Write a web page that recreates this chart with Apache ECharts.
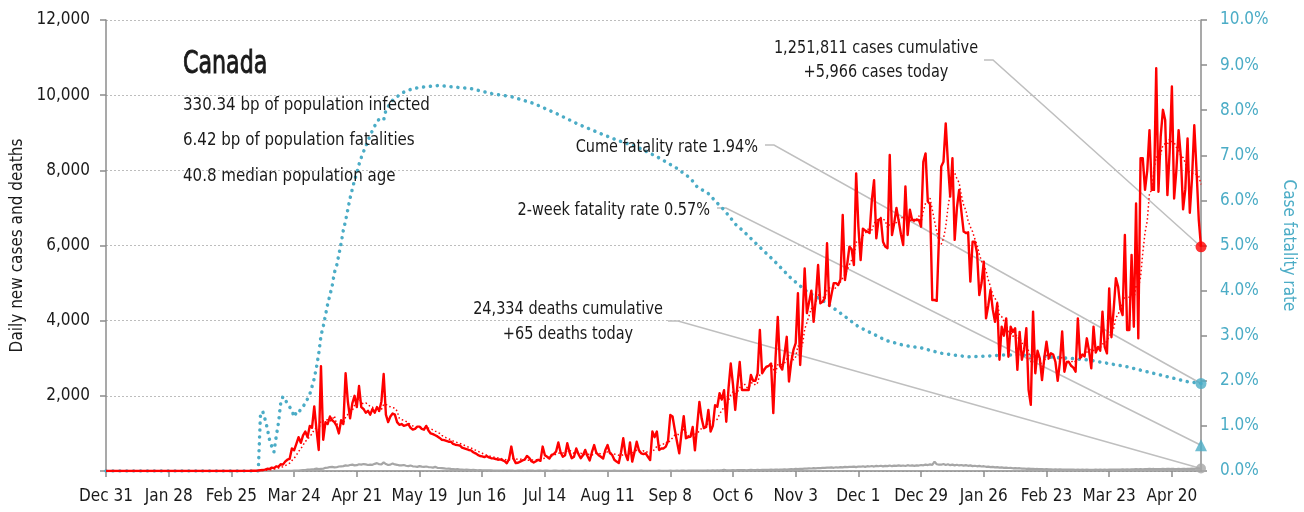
<!DOCTYPE html>
<html>
<head>
<meta charset="utf-8">
<script src="https://cdn.jsdelivr.net/npm/echarts@6/dist/echarts.min.js"></script>
<style>
  html, body { margin: 0; padding: 0; background: #ffffff; }
  #chart { width: 1304px; height: 512px; }
</style>
</head>
<body>
<div id="chart"></div>
<script>
// Day 0 = Dec 31, 2019. One value per day.
const tickDays = [0, 28, 56, 84, 112, 140, 168, 196, 224, 252, 280, 308, 336, 364, 392, 420, 448, 476];
const tickLabels = ['Dec 31', 'Jan 28', 'Feb 25', 'Mar 24', 'Apr 21', 'May 19', 'Jun 16', 'Jul 14', 'Aug 11',
  'Sep 8', 'Oct 6', 'Nov 3', 'Dec 1', 'Dec 29', 'Jan 26', 'Feb 23', 'Mar 23', 'Apr 20'];
const lastDay = 489;

// Daily new cases
const dailyCases = [
  0,0,0,0,0,0,0,0,0,0, 0,0,0,0,0,0,0,0,0,0, 0,0,0,0,0,0,0,0,0,0, 0,0,0,0,0,0,0,0,0,0,
  0,0,0,0,0,0,0,0,0,0, 0,0,0,0,0,0,0,0,0,0, 0,
  4,3,3,3,6,10,6,12,20,25,
  35,60,55,90,75,125,110,180,170,250,
  300,320,600,550,720,900,750,950,1050,900,
  1200,1150,1720,1100,560,2790,830,1300,1250,1450,
  1350,1300,1200,1000,1350,1250,2600,1850,1400,1800,
  2000,1700,2260,1700,1650,1550,1600,1500,1650,1550,
  1700,1600,1850,2580,1500,1300,1450,1530,1500,1300,
  1230,1250,1200,1220,1250,1150,1100,1120,1180,1180,
  1120,1100,1200,1080,1000,980,950,920,880,830,
  820,800,780,780,720,700,690,680,620,600,
  580,560,550,500,470,430,400,390,370,400,
  360,340,335,320,300,310,290,260,205,320,
  650,330,210,220,250,280,300,400,350,260,
  225,260,300,270,650,420,380,330,430,450,
  520,760,500,380,420,740,500,340,380,600,
  450,340,420,560,400,280,500,690,480,420,
  380,330,560,690,480,430,300,250,210,500,
  870,450,290,760,250,500,780,550,470,450,
  470,380,290,1050,900,1050,560,600,600,650,
  800,1490,1450,1100,780,470,1000,1460,870,900,
  910,1170,550,1200,1840,1400,1140,1170,1625,1050,
  1200,1750,1710,2070,1900,2150,1310,2200,2860,2300,
  1625,2300,2900,2155,2155,2155,2155,2553,2400,2400,
  2600,3750,2600,2700,2780,2800,2860,1540,3000,4100,
  2800,2700,3100,3570,2380,2900,3220,3400,4730,2820,
  3900,5390,4200,4500,4800,3970,4600,5480,4460,4500,
  4600,6060,4390,4700,5000,5000,4950,5100,6810,5080,
  5500,5970,5900,5480,7920,6500,5610,6450,6400,6370,
  6330,7200,7740,6190,6680,6720,6100,5970,5930,8410,
  6280,6600,7000,6650,6300,6010,7570,6280,6950,6680,
  6680,6680,6680,6500,8230,8450,7170,7100,4550,4550,
  4530,6240,8100,8230,9250,8180,7300,8320,6150,7000,
  7480,6900,6370,6330,6350,5040,6100,6100,5800,4680,
  5000,5570,4060,4400,4820,4300,3970,4460,2960,3840,
  3600,4060,3040,3840,3700,3800,2690,3700,2960,3220,
  3800,2160,1760,4240,2600,3200,3000,2420,3000,3440,
  3000,3130,3100,2900,2400,2900,3710,2640,2900,2900,
  2800,2750,2640,4060,3000,3100,3050,3530,3200,2730,
  3840,3150,3300,3200,4240,3300,3130,4860,3560,4300,
  5130,4900,4330,4150,6280,3750,3750,5750,3840,7120,
  3530,8320,8320,7480,8000,9070,7480,7480,10715,7430,
  8900,9610,9340,7340,8500,10230,7250,8000,9070,8360,
  6960,7500,8850,6870,7800,9200,8010,6690,5966
];

// Daily new deaths
const dailyDeaths = [
  0,0,0,0,0,0,0,0,0,0, 0,0,0,0,0,0,0,0,0,0, 0,0,0,0,0,0,0,0,0,0, 0,0,0,0,0,0,0,0,0,0,
  0,0,0,0,0,0,0,0,0,0, 0,0,0,0,0,0,0,0,0,0, 0,
  0,0,0,0,0,0,0,0,1,0,
  0,1,0,0,1,2,3,1,2,4,
  3,6,7,9,10,13,20,27,25,35,
  40,46,52,63,50,55,60,85,90,105,
  110,95,100,120,125,130,150,140,160,170,
  150,155,180,170,185,175,160,170,165,190,
  210,180,175,230,185,160,170,200,175,165,
  150,150,160,140,130,145,125,120,110,130,
  115,110,120,105,100,90,110,85,80,75,
  70,60,65,55,50,45,50,40,35,30,
  35,30,25,28,25,20,22,20,18,15,
  16,14,12,10,13,11,9,10,8,10,
  12,9,7,11,10,8,6,9,12,10,
  8,7,9,11,6,8,10,7,5,9,
  8,6,7,9,5,6,8,7,5,6,
  7,5,6,8,5,4,7,6,5,7,
  6,5,4,7,6,5,8,4,5,6,
  7,5,6,4,5,7,6,5,8,6,
  5,6,7,5,4,6,8,5,7,6,
  6,8,7,5,9,6,8,10,7,9,
  10,8,12,9,11,13,10,12,14,11,
  15,13,17,14,16,35,18,20,17,22,
  19,24,21,23,26,20,25,28,22,27,
  30,25,29,33,28,31,35,30,38,34,
  40,36,44,38,45,50,42,55,48,60,
  58,65,62,70,66,75,72,80,78,85,
  82,90,88,95,85,100,92,105,98,110,
  104,112,108,118,102,120,114,125,110,128,
  120,132,118,135,126,140,122,138,130,145,
  128,142,135,150,138,146,132,155,140,148,
  136,150,145,160,152,170,158,175,165,250,
  180,172,168,185,160,178,155,170,150,165,
  148,160,142,155,138,150,130,140,125,135,
  120,128,112,118,105,110,98,104,90,96,
  85,90,80,84,72,78,68,74,62,66,
  58,62,55,60,50,54,48,52,45,50,
  42,46,40,44,38,42,36,40,35,38,
  34,37,32,36,30,34,31,35,29,33,
  30,34,32,36,31,35,33,37,34,38,
  36,40,35,42,38,44,40,46,42,48,
  45,50,47,52,49,55,50,54,48,53,
  50,56,52,58,54,60,55,51,57,53,
  58,54,60,56,62,58,63,60,65
];

// Cumulative case fatality rate, percent: [day, rate]
const fatalityRate = [
  [0,0],[68,0],[69,1.28],[70,1.32],[71,1.15],[72,0.95],[73,0.7],[74,0.55],[75,0.42],[76,0.76],
  [77,1.06],[78,1.5],[79,1.65],[80,1.58],[81,1.5],[82,1.42],[83,1.35],[84,1.2],[85,1.3],[86,1.28],
  [87,1.38],[88,1.43],[89,1.5],[90,1.6],[91,1.7],[92,1.87],[93,2.05],[94,2.3],[95,2.6],[96,3.0],
  [97,3.2],[98,3.45],[99,3.7],[100,3.9],[101,4.1],[102,4.4],[103,4.55],[104,4.8],[105,5.05],[106,5.34],
  [107,5.55],[108,5.8],[109,6.05],[110,6.25],[111,6.45],[112,6.6],[113,6.8],[114,6.95],[115,7.08],[116,7.2],
  [117,7.32],[118,7.45],[119,7.55],[120,7.65],[121,7.75],[122,7.8],[123,7.78],[124,7.78],[125,8.0],[126,8.08],
  [127,8.15],[128,8.22],[130,8.3],[133,8.4],[137,8.48],[143,8.52],[149,8.55],[154,8.52],[163,8.48],[172,8.37],
  [181,8.3],[191,8.15],[201,7.93],[210,7.71],[219,7.52],[228,7.34],[237,7.19],[246,6.97],[255,6.71],[261,6.49],
  [264,6.3],[269,6.15],[273,5.94],[276,5.79],[282,5.42],[284,5.35],[291,5.01],[298,4.68],[306,4.27],[313,3.98],
  [321,3.75],[328,3.5],[336,3.2],[345,2.98],[348,2.9],[356,2.79],[364,2.73],[373,2.61],[385,2.53],[394,2.55],
  [400,2.57],[409,2.57],[421,2.53],[430,2.5],[439,2.46],[447,2.39],[456,2.31],[465,2.2],[474,2.09],[483,1.98],
  [489,1.94]
];

const countryName = 'Canada';
const profileLines = ['330.34 bp of population infected', '6.42 bp of population fatalities', '40.8 median population age'];
const cumulativeCases = 1251811;
const casesToday = 5966;
const cumulativeDeaths = 24334;
const deathsToday = 65;
const cumeFatalityRate = 1.94;
const twoWeekFatalityRate = 0.57;

// Trailing 7-day average of daily cases
function trailingMean(values, n) {
  return values.map((v, i) => {
    const from = Math.max(0, i - n + 1);
    let s = 0;
    for (let k = from; k <= i; k++) s += values[k];
    return s / (i - from + 1);
  });
}
const casesAvg = trailingMean(dailyCases, 7);

const FONT = '"DejaVu Sans Condensed", "Liberation Sans Narrow", "DejaVu Sans", sans-serif';
const RED = '#ff0000';
const BLUE = '#4bacc6';
const GRAY = '#a6a6a6';
const AXIS = '#8c8c8c';
const LEADER = '#bfbfbf';
const TEXT = '#1a1a1a';
const fmt = v => v.toLocaleString('en-US');

const chart = echarts.init(document.getElementById('chart'), null, { renderer: 'canvas' });

chart.setOption({
  animation: false,
  backgroundColor: '#ffffff',
  textStyle: { fontFamily: FONT },
  grid: { left: 106, right: 103, top: 20, bottom: 41, containLabel: false, outerBoundsMode: 'none' },
  xAxis: {
    type: 'value', min: 0, max: lastDay, interval: 28,
    axisLine: { show: true, onZero: false, lineStyle: { color: AXIS, width: 1.5 } },
    axisTick: { show: true, length: 6, customValues: tickDays, lineStyle: { color: AXIS, width: 1.5 } },
    axisLabel: {
      customValues: tickDays,
      formatter: v => tickLabels[tickDays.indexOf(v)] || '',
      fontSize: 17, color: TEXT, margin: 17, fontFamily: FONT
    },
    splitLine: { show: false }
  },
  yAxis: [
    {
      type: 'value', min: 0, max: 12000, interval: 2000, position: 'left',
      name: 'Daily new cases and deaths', nameLocation: 'middle', nameGap: 80,
      nameTextStyle: { fontSize: 17, color: TEXT, fontFamily: FONT },
      axisLine: { show: true, lineStyle: { color: AXIS, width: 1.5 } },
      axisTick: { show: true, length: 6, lineStyle: { color: AXIS, width: 1.5 } },
      axisLabel: { formatter: v => (v === 0 ? '' : fmt(v)), fontSize: 17, color: TEXT, margin: 16, fontFamily: FONT },
      splitLine: { show: true, lineStyle: { color: '#bdbdbd', width: 1, type: [2, 2] } }
    },
    {
      type: 'value', min: 0, max: 10, interval: 1, position: 'right',
      name: 'Case fatality rate', nameLocation: 'middle', nameGap: 78, nameRotate: -90,
      nameTextStyle: { fontSize: 17, color: BLUE, fontFamily: FONT },
      axisLine: { show: true, lineStyle: { color: AXIS, width: 1.5 } },
      axisTick: { show: true, length: 6, lineStyle: { color: AXIS, width: 1.5 } },
      axisLabel: { formatter: v => v.toFixed(1) + '%', fontSize: 17, color: BLUE, margin: 19, fontFamily: FONT },
      splitLine: { show: false }
    }
  ],
  series: [
    {
      name: 'Deaths', type: 'line', xAxisIndex: 0, yAxisIndex: 0, z: 2,
      data: dailyDeaths.map((v, i) => [i, v]),
      showSymbol: false, lineStyle: { color: GRAY, width: 2.2 }
    },
    {
      name: 'Cases (7-day avg)', type: 'line', xAxisIndex: 0, yAxisIndex: 0, z: 3,
      data: casesAvg.map((v, i) => [i, v]),
      showSymbol: false, lineStyle: { color: RED, width: 1.5, type: [1.5, 2.5] }
    },
    {
      name: 'Cases', type: 'line', xAxisIndex: 0, yAxisIndex: 0, z: 4,
      data: dailyCases.map((v, i) => [i, v]),
      showSymbol: false, lineStyle: { color: RED, width: 2.4, join: 'round' }
    },
    {
      name: 'Case fatality rate', type: 'line', xAxisIndex: 0, yAxisIndex: 1, z: 3,
      data: fatalityRate,
      showSymbol: false, lineStyle: { color: BLUE, width: 3.5, type: [0.1, 6.8], cap: 'round' }
    },
    {
      name: 'Cases today', type: 'scatter', yAxisIndex: 0, z: 6, symbol: 'circle', symbolSize: 11,
      data: [[lastDay, casesToday]], itemStyle: { color: RED }
    },
    {
      name: 'Deaths today', type: 'scatter', yAxisIndex: 0, z: 6, symbol: 'circle', symbolSize: 10,
      data: [[lastDay, deathsToday]], itemStyle: { color: GRAY }
    },
    {
      name: 'Cume rate', type: 'scatter', yAxisIndex: 1, z: 6, symbol: 'circle', symbolSize: 11,
      data: [[lastDay, cumeFatalityRate]], itemStyle: { color: BLUE }
    },
    {
      name: '2-week rate', type: 'scatter', yAxisIndex: 1, z: 6, symbol: 'triangle', symbolSize: [12, 12],
      data: [[lastDay, twoWeekFatalityRate]], itemStyle: { color: BLUE }
    }
  ]
});

// Annotation text and leader lines
const leftPx = (v) => chart.convertToPixel({ xAxisIndex: 0, yAxisIndex: 0 }, [lastDay, v]);
const rightPx = (v) => chart.convertToPixel({ xAxisIndex: 0, yAxisIndex: 1 }, [lastDay, v]);

function label(text, x, y, align, opts) {
  const o = opts || {};
  const style = {
    text: text, fill: TEXT, fontSize: o.size || 18.5, fontFamily: FONT,
    align: align, textAlign: align, verticalAlign: 'middle', textVerticalAlign: 'middle'
  };
  if (o.stroke) { style.stroke = TEXT; style.lineWidth = o.stroke; }
  return {
    type: 'text', x: x, y: y, z: 10, silent: true,
    scaleX: o.sx || 0.87, scaleY: 1,
    style: style
  };
}
function leader(x0, x1, y, end) {
  return {
    type: 'polyline', z: 1, silent: true,
    shape: { points: [[x0, y], [x1, y], end] },
    style: { stroke: LEADER, lineWidth: 1.5, fill: null }
  };
}

chart.setOption({
  graphic: [
    label(countryName, 183, 65, 'left', { size: 32, sx: 0.77, stroke: 0.9 }),
    label(profileLines[0], 183, 105, 'left', { sx: 0.905 }),
    label(profileLines[1], 183, 140, 'left', { sx: 0.905 }),
    label(profileLines[2], 183, 176, 'left', { sx: 0.905 }),
    label(fmt(cumulativeCases) + ' cases cumulative', 876, 48, 'center'),
    label('+' + fmt(casesToday) + ' cases today', 876, 72, 'center'),
    label('Cume fatality rate ' + cumeFatalityRate.toFixed(2) + '%', 758, 147, 'right'),
    label('2-week fatality rate ' + twoWeekFatalityRate.toFixed(2) + '%', 710, 210, 'right'),
    label(fmt(cumulativeDeaths) + ' deaths cumulative', 568, 309, 'center'),
    label('+' + deathsToday + ' deaths today', 568, 334, 'center'),
    leader(984, 993, 60, leftPx(casesToday)),
    leader(765, 774, 145, rightPx(cumeFatalityRate)),
    leader(717, 726, 208, rightPx(twoWeekFatalityRate)),
    leader(668, 678, 321, leftPx(deathsToday))
  ]
});
</script>
</body>
</html>
